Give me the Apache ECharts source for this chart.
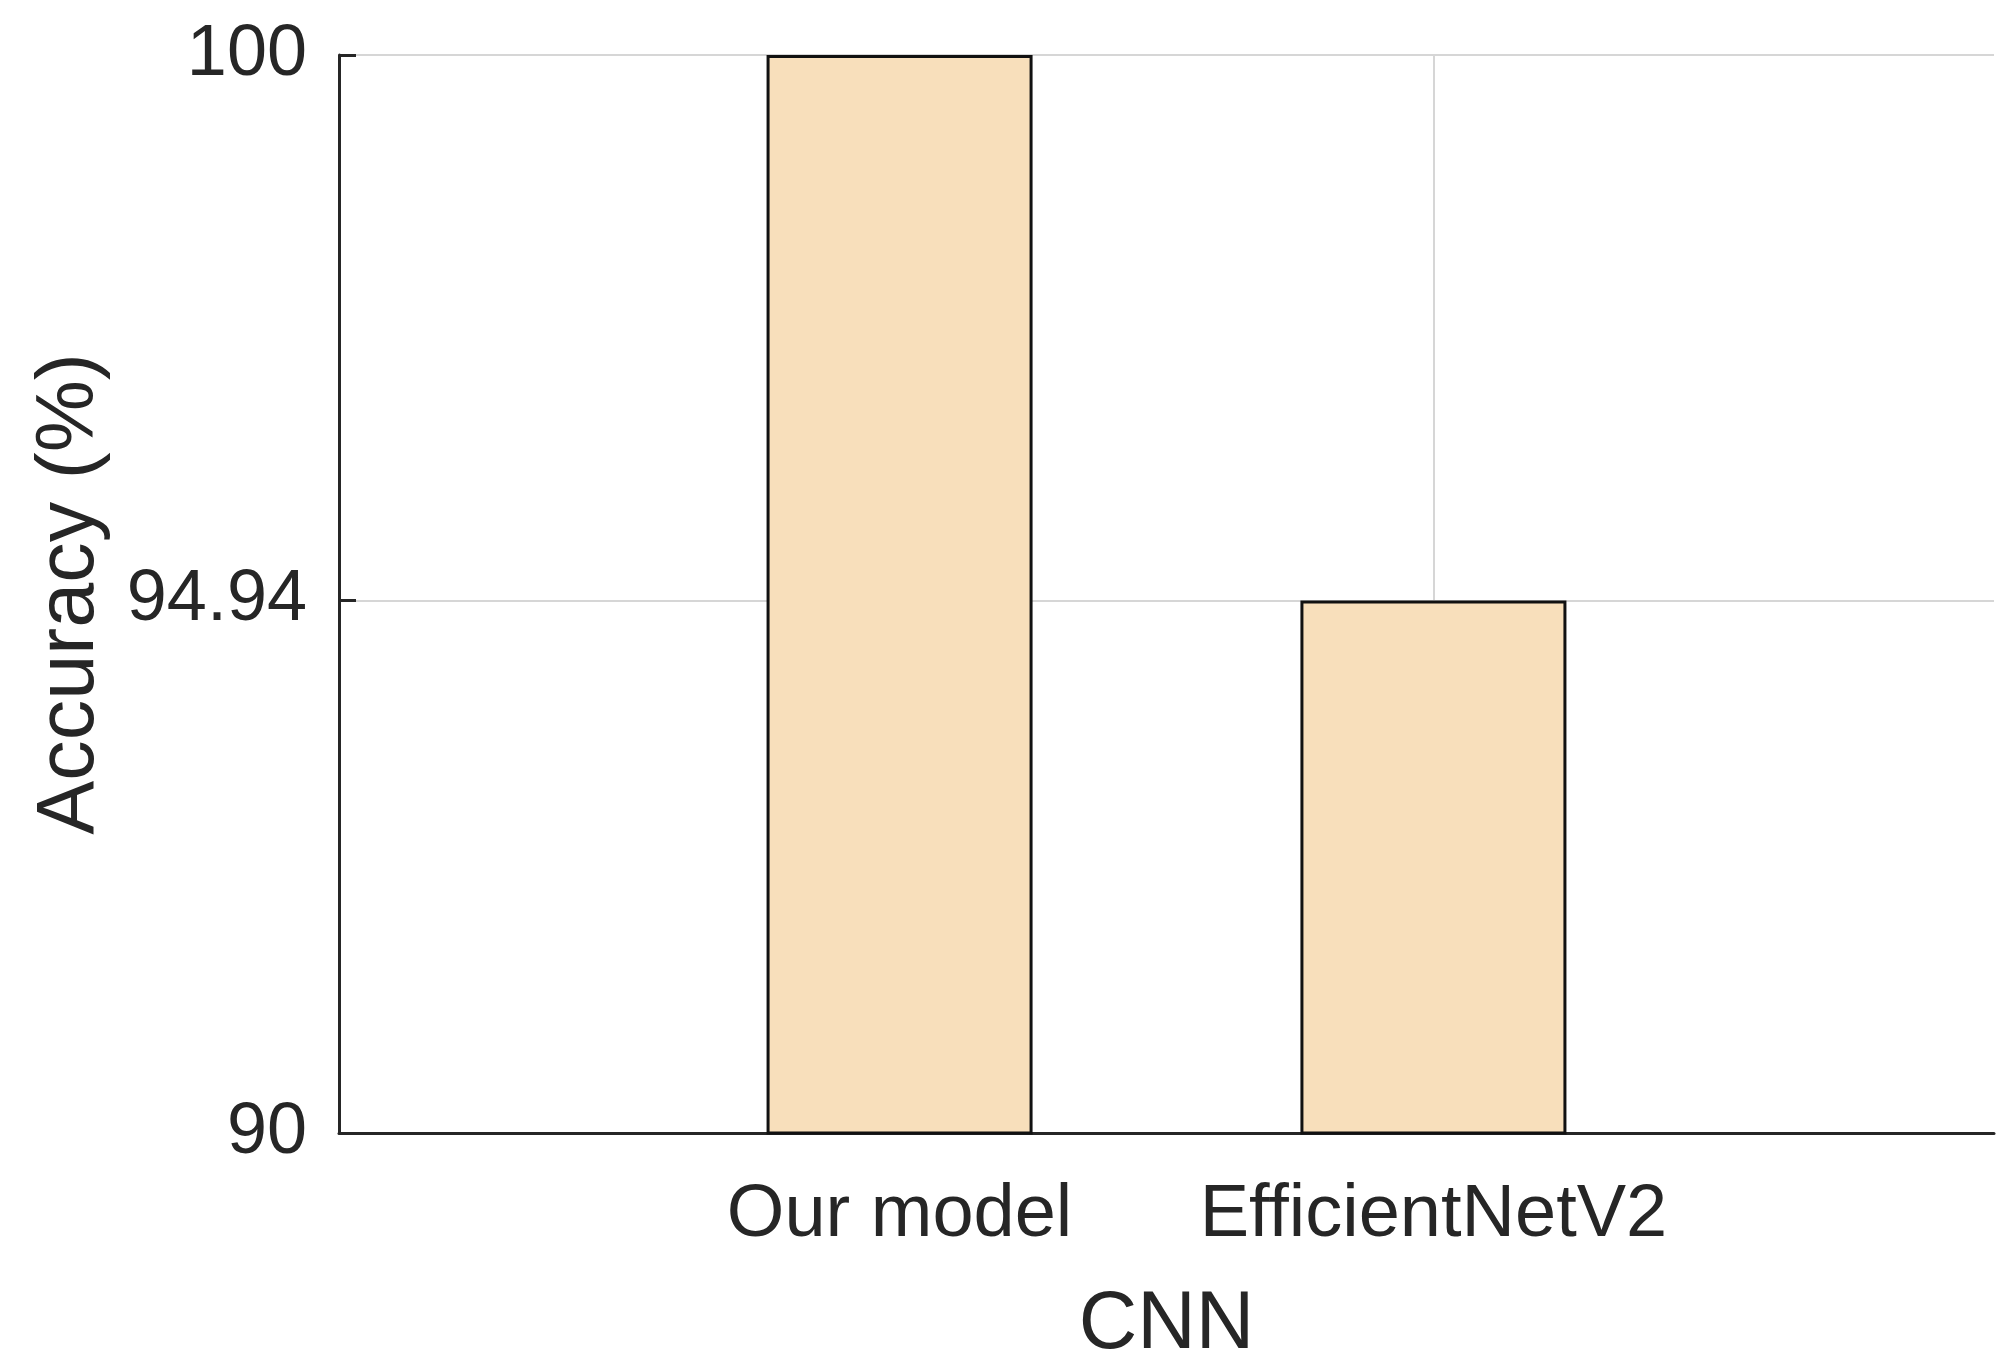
<!DOCTYPE html>
<html>
<head>
<meta charset="utf-8">
<script src="https://cdn.jsdelivr.net/npm/echarts@6/dist/echarts.min.js"></script>
<style>
html,body{margin:0;padding:0;background:#fff;}
#chart{width:2008px;height:1367px;}
</style>
</head>
<body>
<div id="chart"></div>
<script>
// ---- data ----
const categories = ['Our model', 'EfficientNetV2'];
const categoryPositions = [1, 2];
const accuracy = [100, 94.94];
const yTickValues = [90, 94.94, 100];
const xAxisName = 'CNN';
const yAxisName = 'Accuracy (%)';

const FONT = '"Liberation Sans", Arial, Helvetica, sans-serif';
const TXT = '#262626';

const barData = categoryPositions.map((x, i) => [x, accuracy[i]]);

const chart = echarts.init(document.getElementById('chart'), null, {renderer: 'canvas'});
chart.setOption({
  backgroundColor: '#ffffff',
  animation: false,
  grid: {left: 339, right: 14, top: 55, bottom: 234, containLabel: false, outerBoundsMode: 'none'},
  xAxis: {
    type: 'value',
    min: -0.05,
    max: 3.05,
    name: xAxisName,
    nameLocation: 'middle',
    nameGap: 152,
    nameTextStyle: {fontFamily: FONT, fontSize: 81, color: TXT},
    axisLine: {show: true, onZero: false, lineStyle: {color: TXT, width: 3}},
    axisTick: {show: true, inside: true, length: 17, customValues: categoryPositions, lineStyle: {color: TXT, width: 3}},
    axisLabel: {
      show: true, margin: 46, customValues: categoryPositions,
      fontFamily: FONT, fontSize: 74, color: TXT,
      formatter: v => { const i = categoryPositions.indexOf(v); return i >= 0 ? categories[i] : ''; }
    },
    splitLine: {show: true, lineStyle: {color: '#d6d6d6', width: 2}}
  },
  yAxis: {
    type: 'value',
    min: 90,
    max: 100,
    name: yAxisName,
    nameLocation: 'middle',
    nameGap: 228,
    nameRotate: 90,
    nameTextStyle: {fontFamily: FONT, fontSize: 81, color: TXT},
    axisLine: {show: true, onZero: false, lineStyle: {color: TXT, width: 3}},
    axisTick: {show: true, inside: true, length: 17, customValues: yTickValues, lineStyle: {color: TXT, width: 3}},
    axisLabel: {
      show: true, margin: 32, customValues: yTickValues,
      fontFamily: FONT, fontSize: 72, color: TXT,
      formatter: v => String(v)
    },
    splitLine: {show: true, lineStyle: {color: '#d6d6d6', width: 2}}
  },
  series: [{
    type: 'bar',
    data: barData,
    barWidth: 266,
    itemStyle: {color: '#F8DFBB', borderColor: '#111111', borderWidth: 3}
  }]
});
</script>
</body>
</html>
